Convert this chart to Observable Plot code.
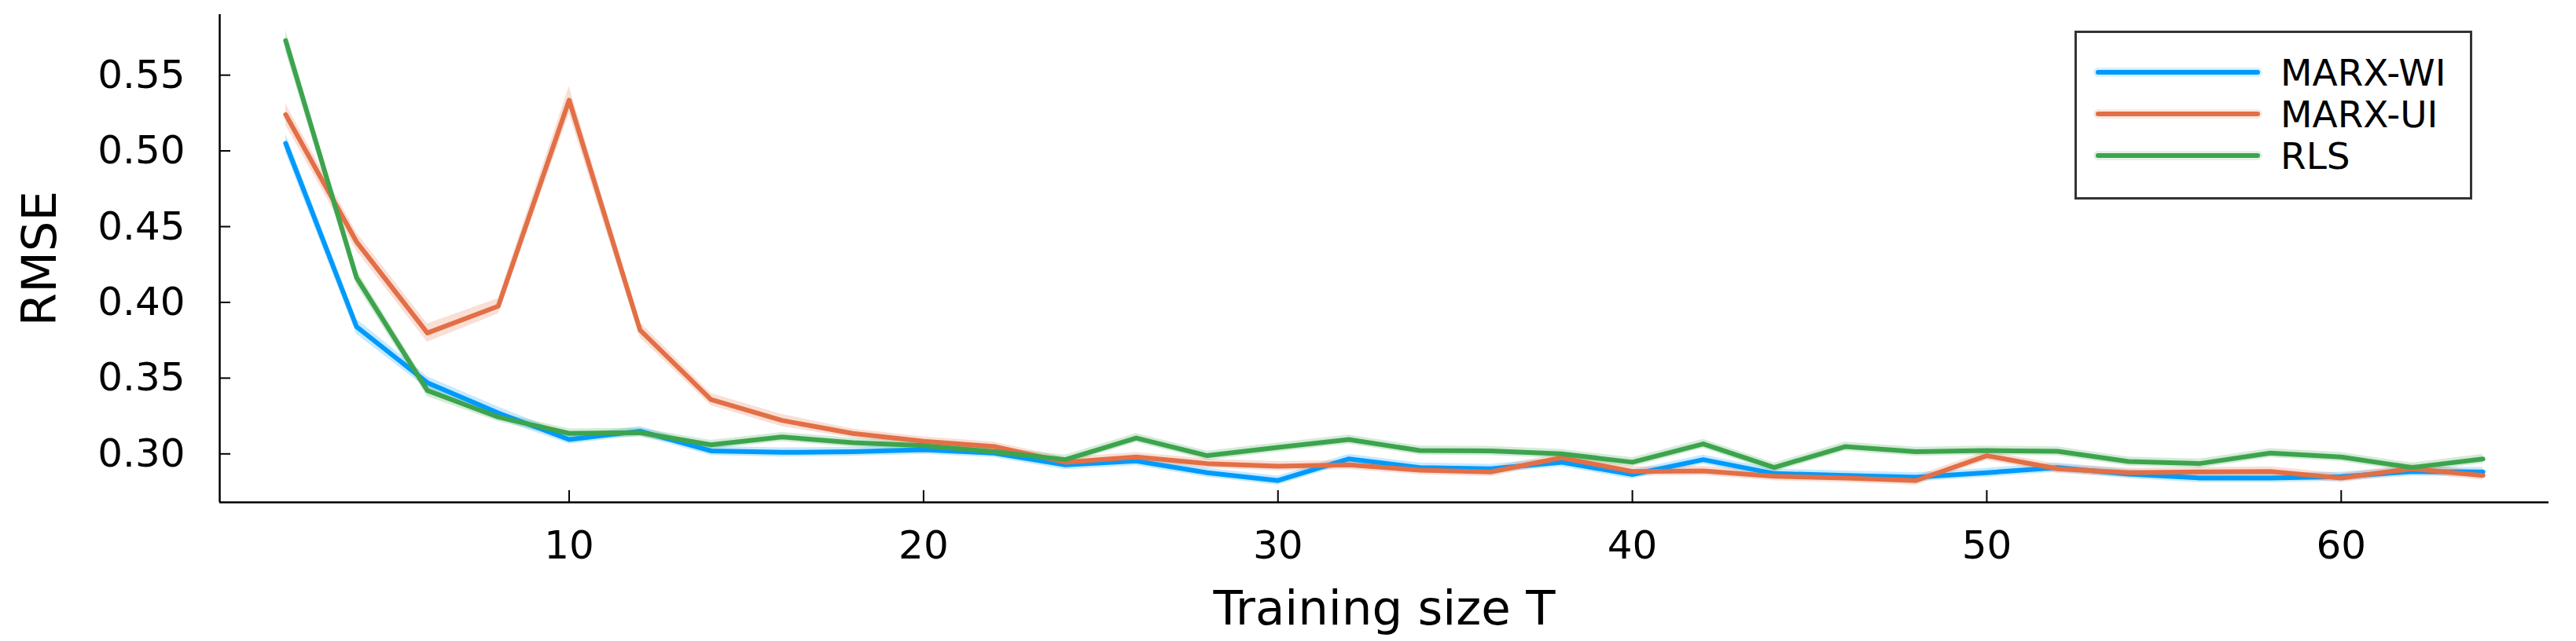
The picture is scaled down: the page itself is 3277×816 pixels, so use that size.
<!DOCTYPE html>
<html>
<head>
<meta charset="utf-8">
<script src="https://cdn.jsdelivr.net/npm/d3@7"></script>
<script src="https://cdn.jsdelivr.net/npm/@observablehq/plot@0.6"></script>
<style>
  body { margin: 0; background: #fff; }
  #wrap { position: relative; width: 3277px; height: 816px; font-family: "DejaVu Sans", sans-serif; }
  #legend { position: absolute; left: 2639px; top: 39px; }
</style>
</head>
<body>
<div id="wrap"></div>
<script>
// ---- data ----
const trainingSize = [2, 4, 6, 8, 10, 12, 14, 16, 18, 20, 22, 24, 26, 28, 30, 32,
                      34, 36, 38, 40, 42, 44, 46, 48, 50, 52, 54, 56, 58, 60, 62, 64];

const seriesNames = ["MARX-WI", "MARX-UI", "RLS"];
const seriesColors = ["#009AFA", "#E26F46", "#3DA44D"];

const rmseMarxWI = [0.505, 0.384, 0.347, 0.327, 0.3095, 0.315, 0.302, 0.301, 0.3014, 0.3028, 0.3005, 0.2927, 0.2953, 0.2876, 0.2824, 0.2967,
                    0.291, 0.2902, 0.2945, 0.2864, 0.2962, 0.287, 0.2858, 0.2846, 0.2876, 0.291, 0.2867, 0.2841, 0.2841, 0.285, 0.2884, 0.2881];
const rmseMarxUI = [0.524, 0.440, 0.3798, 0.3975, 0.5335, 0.3818, 0.3359, 0.3221, 0.3135, 0.3083, 0.3048, 0.2945, 0.2979, 0.2936, 0.2919, 0.2927,
                    0.2893, 0.2881, 0.2974, 0.2884, 0.2888, 0.2853, 0.2841, 0.2824, 0.2988, 0.2902, 0.2876, 0.2881, 0.2884, 0.2841, 0.2902, 0.2858];
const rmseRLS    = [0.5728, 0.4164, 0.3418, 0.3243, 0.3135, 0.314, 0.306, 0.3112, 0.3074, 0.3054, 0.3014, 0.2962, 0.3105, 0.2988, 0.3043, 0.3095,
                    0.3022, 0.3019, 0.300, 0.2945, 0.3066, 0.291, 0.3048, 0.3014, 0.3022, 0.3017, 0.295, 0.2936, 0.3005, 0.2979, 0.291, 0.2967];

// ribbon half-widths
const bandMarxWI = [0.006, 0.005, 0.004, 0.004, 0.003, 0.003, 0.003, 0.003, 0.003, 0.003, 0.003, 0.003, 0.003, 0.003, 0.003, 0.003,
                    0.003, 0.003, 0.003, 0.003, 0.003, 0.003, 0.003, 0.003, 0.003, 0.003, 0.003, 0.003, 0.003, 0.003, 0.003, 0.003];
const bandMarxUI = [0.007, 0.006, 0.006, 0.005, 0.009, 0.005, 0.004, 0.004, 0.003, 0.003, 0.003, 0.003, 0.003, 0.003, 0.003, 0.003,
                    0.003, 0.003, 0.003, 0.003, 0.003, 0.003, 0.003, 0.003, 0.003, 0.003, 0.003, 0.003, 0.003, 0.003, 0.003, 0.003];
const bandRLS    = [0.007, 0.005, 0.004, 0.003, 0.003, 0.003, 0.003, 0.003, 0.003, 0.003, 0.003, 0.003, 0.003, 0.003, 0.003, 0.003,
                    0.003, 0.003, 0.003, 0.003, 0.003, 0.003, 0.003, 0.003, 0.003, 0.003, 0.003, 0.003, 0.003, 0.003, 0.003, 0.003];

const xTicks = [10, 20, 30, 40, 50, 60];
const yTicks = [0.30, 0.35, 0.40, 0.45, 0.50, 0.55];
const xDomain = [0.14, 65.86];
const yDomain = [0.268, 0.590];
const xLabel = "Training size T";
const yLabel = "RMSE";

// ---- build table ----
const seriesValues = [rmseMarxWI, rmseMarxUI, rmseRLS];
const seriesBands = [bandMarxWI, bandMarxUI, bandRLS];
const rows = [];
seriesNames.forEach((name, s) => {
  trainingSize.forEach((t, i) => {
    const v = seriesValues[s][i], h = seriesBands[s][i];
    rows.push({ T: t, v, lo: v - h, hi: v + h, name });
  });
});

const FONT = "DejaVu Sans, sans-serif";

const chart = Plot.plot({
  width: 3277,
  height: 816,
  marginLeft: 279,
  marginRight: 35,
  marginTop: 18,
  marginBottom: 177,
  style: { fontFamily: FONT, background: "white", color: "black", overflow: "visible" },
  x: { domain: xDomain, axis: null },
  y: { domain: yDomain, axis: null },
  color: { domain: seriesNames, range: seriesColors },
  marks: [
    Plot.areaY(rows, { x: "T", y1: "lo", y2: "hi", z: "name", fill: "name", fillOpacity: 0.22 }),
    Plot.lineY(rows, { x: "T", y: "v", z: "name", stroke: "name", strokeWidth: 6, strokeLinejoin: "round" }),
    Plot.ruleX([xDomain[0]], { stroke: "black", strokeWidth: 2.5 }),
    Plot.ruleY([yDomain[0]], { stroke: "black", strokeWidth: 2.5 }),
    Plot.axisY(yTicks, { tickSize: -14, tickPadding: 58, fontSize: 50, strokeWidth: 2, tickFormat: d => d.toFixed(2), label: null }),
    Plot.axisX(xTicks, { tickSize: -15, tickPadding: 51, fontSize: 50, strokeWidth: 2, tickFormat: d => String(d), label: null }),
    Plot.text([yLabel], { frameAnchor: "left", dx: -209, rotate: -90, lineAnchor: "bottom", textAnchor: "middle", fontSize: 61 }),
    Plot.text([xLabel], { frameAnchor: "bottom", dy: 155, lineAnchor: "bottom", textAnchor: "middle", fontSize: 61 })
  ]
});

const wrap = document.getElementById("wrap");
wrap.appendChild(chart);

// ---- legend ----
const ns = "http://www.w3.org/2000/svg";
const lg = document.createElementNS(ns, "svg");
lg.setAttribute("id", "legend");
lg.setAttribute("width", 506);
lg.setAttribute("height", 215);
const box = document.createElementNS(ns, "rect");
box.setAttribute("x", 1.5); box.setAttribute("y", 1.5);
box.setAttribute("width", 503); box.setAttribute("height", 212);
box.setAttribute("fill", "white"); box.setAttribute("stroke", "#333"); box.setAttribute("stroke-width", 3);
lg.appendChild(box);
seriesNames.forEach((name, i) => {
  const y = 53 + i * 53;
  const halo = document.createElementNS(ns, "line");
  halo.setAttribute("x1", 30); halo.setAttribute("x2", 233);
  halo.setAttribute("y1", y); halo.setAttribute("y2", y);
  halo.setAttribute("stroke", seriesColors[i]); halo.setAttribute("stroke-opacity", 0.15);
  halo.setAttribute("stroke-width", 12); halo.setAttribute("stroke-linecap", "round");
  lg.appendChild(halo);
  const ln = document.createElementNS(ns, "line");
  ln.setAttribute("x1", 30); ln.setAttribute("x2", 233);
  ln.setAttribute("y1", y); ln.setAttribute("y2", y);
  ln.setAttribute("stroke", seriesColors[i]); ln.setAttribute("stroke-width", 6);
  ln.setAttribute("stroke-linecap", "round");
  lg.appendChild(ln);
  const tx = document.createElementNS(ns, "text");
  tx.setAttribute("x", 262); tx.setAttribute("y", y);
  tx.setAttribute("dy", "0.36em");
  tx.setAttribute("font-family", FONT); tx.setAttribute("font-size", 47);
  tx.setAttribute("fill", "black");
  tx.textContent = name;
  lg.appendChild(tx);
});
wrap.appendChild(lg);
</script>
</body>
</html>
